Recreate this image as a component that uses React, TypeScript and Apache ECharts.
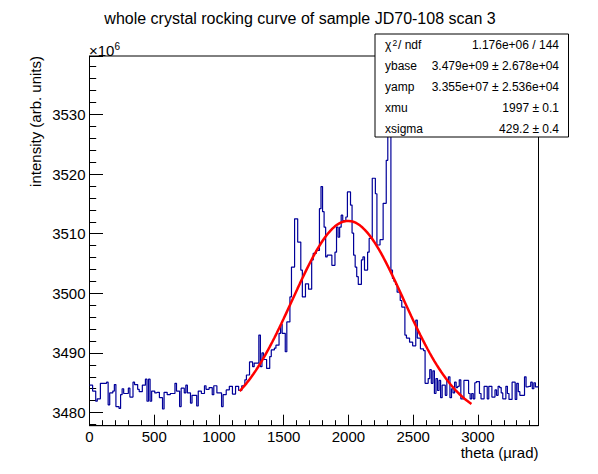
import React, { useEffect, useRef } from "react";
import * as echarts from "echarts";

// ---- data (values in units of 1e6) ----
const BIN_WIDTH = 12; // µrad per bin
const X_MAX = 3468;
const Y_MIN = 3477.8;
const Y_MAX = 3539.8;

const countsLeft = [
  3484.6, 3484.6, 3483.6, 3483.6, 3481.9, 3482.3, 3482.3, 3484.9, 3484.9, 3484.9,
  3484.9, 3485.1, 3481.3, 3483.3, 3483.3, 3483.6, 3484.7, 3481.0, 3481.0, 3480.7,
  3483.0, 3484.0, 3483.2, 3483.2, 3483.2, 3484.1, 3482.6, 3482.6, 3485.1, 3484.7,
  3484.7, 3483.9, 3483.5, 3483.5, 3484.6, 3484.6, 3485.6, 3481.9, 3485.6, 3481.9,
  3483.6, 3483.6, 3483.3, 3483.4, 3483.4, 3482.5, 3482.5, 3480.6, 3483.4, 3483.4,
  3483.0, 3483.0, 3483.2, 3483.2, 3483.2, 3484.9, 3483.6, 3483.6, 3481.0, 3484.1,
  3484.1, 3483.3, 3484.6, 3483.3, 3483.3, 3481.6, 3482.9, 3482.9, 3482.9, 3481.1,
  3483.6, 3483.6, 3483.2, 3483.2, 3484.5, 3483.9, 3483.9, 3484.2, 3484.2, 3483.0,
  3484.5, 3484.5, 3483.3, 3483.3, 3483.3, 3481.0, 3483.0, 3483.0, 3483.8, 3483.8,
  3484.4, 3484.4, 3483.1, 3483.1, 3484.4, 3484.4, 3483.7, 3483.7, 3484.5, 3484.5,
];

const countsPeak = [
  3485.5, 3486.3, 3486.3, 3488.5, 3488.5, 3487.7, 3488.3, 3488.3, 3488.3, 3493.0,
  3487.7, 3490.0, 3488.9, 3488.9, 3487.4, 3487.4, 3489.4, 3490.5, 3490.5, 3490.8,
  3491.3, 3491.3, 3493.3, 3494.8, 3493.3, 3493.3, 3490.2, 3495.2, 3495.2, 3499.4,
  3504.4, 3504.4, 3512.5, 3512.5, 3508.6, 3508.6, 3503.9, 3499.4, 3499.4, 3501.6,
  3501.6, 3500.7, 3500.7, 3505.6, 3506.7, 3506.7, 3507.2, 3507.2, 3514.2, 3517.9,
  3513.7, 3511.1, 3506.1, 3506.4, 3506.4, 3506.4, 3504.7, 3504.7, 3506.9, 3511.1,
  3509.4, 3511.1, 3513.1, 3512.2, 3512.2, 3512.8, 3517.0, 3517.0, 3514.8, 3510.1,
  3506.4, 3504.4, 3502.8, 3501.5, 3501.5, 3505.6, 3506.1, 3503.9, 3503.9, 3506.9,
  3509.2, 3509.2, 3519.3, 3519.3, 3516.7, 3508.1, 3508.1, 3509.0, 3509.0, 3515.1,
  3515.1, 3522.3, 3532.0, 3532.0, 3503.9, 3502.5, 3502.0, 3501.5, 3500.2, 3500.2,
  3498.8, 3497.7, 3497.7, 3493.0, 3492.5, 3492.5, 3491.8, 3491.8, 3491.2, 3491.2,
  3495.5, 3492.5, 3492.5, 3490.7, 3490.7, 3490.4, 3484.9, 3484.9, 3485.7,
];

const countsRight = [
  3487.2, 3484.9, 3487.0, 3483.2, 3485.7, 3483.7, 3485.4, 3482.5, 3484.6, 3484.6,
  3482.9, 3485.4, 3486.0, 3482.5, 3484.0, 3483.3, 3485.1, 3484.2, 3484.4, 3485.5,
  3482.3, 3482.3, 3485.4, 3485.4, 3485.4, 3483.2, 3482.3, 3483.2, 3482.3, 3485.0,
  3485.2, 3485.2, 3483.2, 3482.3, 3482.3, 3484.4, 3484.4, 3482.3, 3484.4, 3484.4,
  3482.6, 3482.6, 3483.8, 3482.9, 3484.4, 3484.2, 3483.3, 3482.3, 3482.3, 3484.4,
  3483.2, 3482.2, 3482.2, 3485.1, 3485.1, 3482.2, 3484.9, 3483.5, 3482.9, 3482.9,
  3482.9, 3486.0, 3484.3, 3484.4, 3484.4, 3485.1, 3484.0, 3485.0, 3484.3, 3484.3,
];

// Gaussian fit, parameters as shown in the stats box (1e6 units)
const fitParams = { ybase: 3478.6, yamp: 33.55, xmu: 1997, xsigma: 429.2 };
const fitRange = [1160, 2950];
const FIT_NPX = 100;

const statsLabels = ["ybase", "yamp", "xmu", "xsigma"];
const statsValues = [
  "3.479e+09 ± 2.678e+04",
  "3.355e+07 ± 2.536e+04",
  "1997 ± 0.1",
  "429.2 ± 0.4",
];
const chi2Value = "1.176e+06 / 144";

const TITLE = "whole crystal rocking curve of sample JD70-108 scan 3";
const X_TITLE = "theta (µrad)";
const Y_TITLE = "intensity (arb. units)";

const FONT = "'Liberation Sans', Arial, Helvetica, sans-serif";
const STAT_FONT = `12px ${FONT}`;

export default function App() {
  const ref = useRef<HTMLDivElement>(null);

  useEffect(() => {
    if (!ref.current) return;
    const chart = echarts.init(ref.current, undefined, { renderer: "svg" });

    const counts = [...countsLeft, ...countsPeak, ...countsRight];
    const histPts: number[][] = [];
    counts.forEach((v, i) => {
      histPts.push([i * BIN_WIDTH, v]);
      histPts.push([(i + 1) * BIN_WIDTH, v]);
    });

    const fitPts: number[][] = [];
    for (let k = 0; k <= FIT_NPX; k++) {
      const x = fitRange[0] + ((fitRange[1] - fitRange[0]) * k) / FIT_NPX;
      const z = (x - fitParams.xmu) / fitParams.xsigma;
      fitPts.push([x, fitParams.ybase + fitParams.yamp * Math.exp(-0.5 * z * z)]);
    }

    const rowY0 = 45;
    const rowDy = 20.9;
    const statTexts: any[] = [];
    statsLabels.forEach((lab, i) => {
      const y = rowY0 + rowDy * (i + 1);
      statTexts.push({
        type: "text",
        z: 101,
        x: 385,
        y,
        style: { text: lab, fill: "#000", font: STAT_FONT, align: "left", verticalAlign: "middle" },
      });
      statTexts.push({
        type: "text",
        z: 101,
        x: 559,
        y,
        style: { text: statsValues[i], fill: "#000", font: STAT_FONT, align: "right", verticalAlign: "middle" },
      });
    });

    chart.setOption({
      animation: false,
      backgroundColor: "#fff",
      grid: {
        left: 89.5,
        right: 59.5,
        top: 56,
        bottom: 48.3,
        show: true,
        borderColor: "#000",
        borderWidth: 1,
      },
      xAxis: {
        type: "value",
        min: 0,
        max: X_MAX,
        interval: 500,
        axisLine: { show: true, lineStyle: { color: "#000", width: 1 } },
        axisTick: { show: true, inside: true, length: 11, lineStyle: { color: "#000", width: 1 } },
        minorTick: { show: true, splitNumber: 5, length: 5.5, lineStyle: { color: "#000", width: 1 } },
        splitLine: { show: false },
        axisLabel: {
          color: "#000",
          fontSize: 15,
          fontFamily: FONT,
          margin: 3,
          showMaxLabel: false,
          formatter: (v: number) => (Math.abs(v % 500) < 1e-6 ? String(v) : ""),
        },
      },
      yAxis: {
        type: "value",
        min: Y_MIN,
        max: Y_MAX,
        splitNumber: 5,
        axisLine: { show: true, lineStyle: { color: "#000", width: 1 } },
        axisTick: { show: true, inside: true, length: 13.5, lineStyle: { color: "#000", width: 1 } },
        minorTick: { show: true, splitNumber: 5, length: 6.7, lineStyle: { color: "#000", width: 1 } },
        splitLine: { show: false },
        axisLabel: {
          color: "#000",
          fontSize: 15,
          fontFamily: FONT,
          margin: 4,
          showMinLabel: false,
          showMaxLabel: false,
          formatter: (v: number) => {
            const r = Math.round(v);
            return Math.abs(v - r) < 1e-6 && r % 10 === 0 ? String(r) : "";
          },
        },
      },
      series: [
        {
          type: "line",
          data: histPts,
          symbol: "none",
          silent: true,
          lineStyle: { color: "#000099", width: 1.2 },
          z: 2,
        },
        {
          type: "line",
          data: fitPts,
          symbol: "none",
          silent: true,
          lineStyle: { color: "#ff0000", width: 2.5 },
          z: 3,
        },
      ],
      graphic: [
        {
          type: "text",
          x: 300,
          y: 18,
          style: { text: TITLE, fill: "#000", font: `16px ${FONT}`, align: "center", verticalAlign: "middle" },
        },
        {
          type: "text",
          x: 538.5,
          y: 452,
          style: { text: X_TITLE, fill: "#000", font: `15px ${FONT}`, align: "right", verticalAlign: "middle" },
        },
        {
          type: "text",
          x: 35,
          y: 56,
          rotation: Math.PI / 2,
          style: { text: Y_TITLE, fill: "#000", font: `15px ${FONT}`, align: "right", verticalAlign: "middle" },
        },
        {
          type: "text",
          x: 89,
          y: 57.5,
          style: { text: "×10", fill: "#000", font: `15px ${FONT}`, align: "left", verticalAlign: "bottom" },
        },
        {
          type: "text",
          x: 114.5,
          y: 41.5,
          style: { text: "6", fill: "#000", font: `10px ${FONT}`, align: "left", verticalAlign: "top" },
        },
        {
          type: "rect",
          z: 100,
          shape: { x: 375, y: 34, width: 193.5, height: 103 },
          style: { fill: "#fff", stroke: "#000", lineWidth: 1 },
        },
        {
          type: "text",
          z: 101,
          x: 385,
          y: rowY0,
          style: { text: "χ", fill: "#000", font: STAT_FONT, align: "left", verticalAlign: "middle" },
        },
        {
          type: "text",
          z: 101,
          x: 392.5,
          y: 38.5,
          style: { text: "2", fill: "#000", font: `8.5px ${FONT}`, align: "left", verticalAlign: "top" },
        },
        {
          type: "text",
          z: 101,
          x: 398,
          y: rowY0,
          style: { text: "/ ndf", fill: "#000", font: STAT_FONT, align: "left", verticalAlign: "middle" },
        },
        {
          type: "text",
          z: 101,
          x: 559,
          y: rowY0,
          style: { text: chi2Value, fill: "#000", font: STAT_FONT, align: "right", verticalAlign: "middle" },
        },
        ...statTexts,
      ],
    });

    return () => chart.dispose();
  }, []);

  return (
    <div
      ref={ref}
      style={{ position: "fixed", left: 0, top: 0, width: 598, height: 474, background: "#fff" }}
    />
  );
}
